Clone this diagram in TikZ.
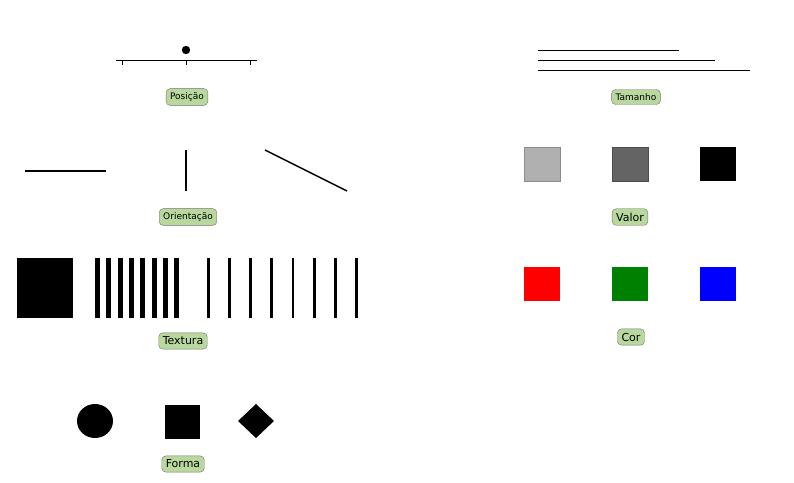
\documentclass[tikz,border=0pt]{standalone}
\usepackage{fontspec}
\setmainfont{DejaVu Sans}
\definecolor{labfill}{RGB}{184,216,158}
\definecolor{vlight}{RGB}{176,176,176}
\definecolor{vmid}{RGB}{100,100,100}
\definecolor{mgreen}{RGB}{0,128,0}
\begin{document}
\begin{tikzpicture}[x=1pt,y=-1pt,
 lab/.style={draw=black!55,fill=labfill,rounded corners=4pt,inner sep=4pt},
 sm/.style={lab,font=\fontsize{9}{10}\selectfont},
 bg/.style={lab,font=\fontsize{11}{12}\selectfont},
 ln/.style={line width=1pt}]
\useasboundingbox (0,0) rectangle (794,482);
% Posicao
\draw[ln] (116,60) -- (257,60);
\foreach \x in {122,186,250} \draw[ln] (\x,60) -- (\x,65);
\fill (186,50) circle (4.2);
\node[sm] (p) at (187,97) {Posição};
% Tamanho
\draw[ln] (538,50) -- (679,50);
\draw[ln] (538,60) -- (715,60);
\draw[ln] (538,70) -- (750,70);
\node[sm] (t) at (636,97) {Tamanho};
% Orientacao
\draw[line width=1.5pt] (25,171) -- (106,171);
\draw[line width=1.5pt] (186,150) -- (186,191);
\draw[line width=1.5pt] (265,150) -- (347,191);
\node[sm] (o) at (188,217) {Orientação};
% Valor
\filldraw[fill=vlight,draw=black!45] (524,147) rectangle (560,181);
\filldraw[fill=vmid,draw=black!70] (612,147) rectangle (648,181);
\fill (700,147) rectangle (736,181);
\node[bg] (v) at (630,217) {Valor};
% Cor
\fill[red] (524,267) rectangle (560,301);
\fill[mgreen] (612,267) rectangle (648,301);
\fill[blue] (700,267) rectangle (736,301);
\node[bg] (c) at (631,337) {Cor};
% Textura
\foreach \i in {0,...,7} {\fill (17+7*\i,258) rectangle (23.5+7*\i,318);}
\foreach \i in {0,...,7} {\fill (95+11.3*\i,258) rectangle (100+11.3*\i,318);}
\foreach \i in {0,...,7} {\fill (206.8+21.2*\i,258) rectangle (209.5+21.2*\i,318);}
\node[bg] (tx) at (183,341) {Textura};
% Forma
\fill (95,421) ellipse (18 and 17);
\fill (165,405) rectangle (200,439);
\fill (256,404) -- (274,421) -- (256,438) -- (238,421) -- cycle;
\node[bg] (f) at (183,464) {Forma};
\end{tikzpicture}
\end{document}
